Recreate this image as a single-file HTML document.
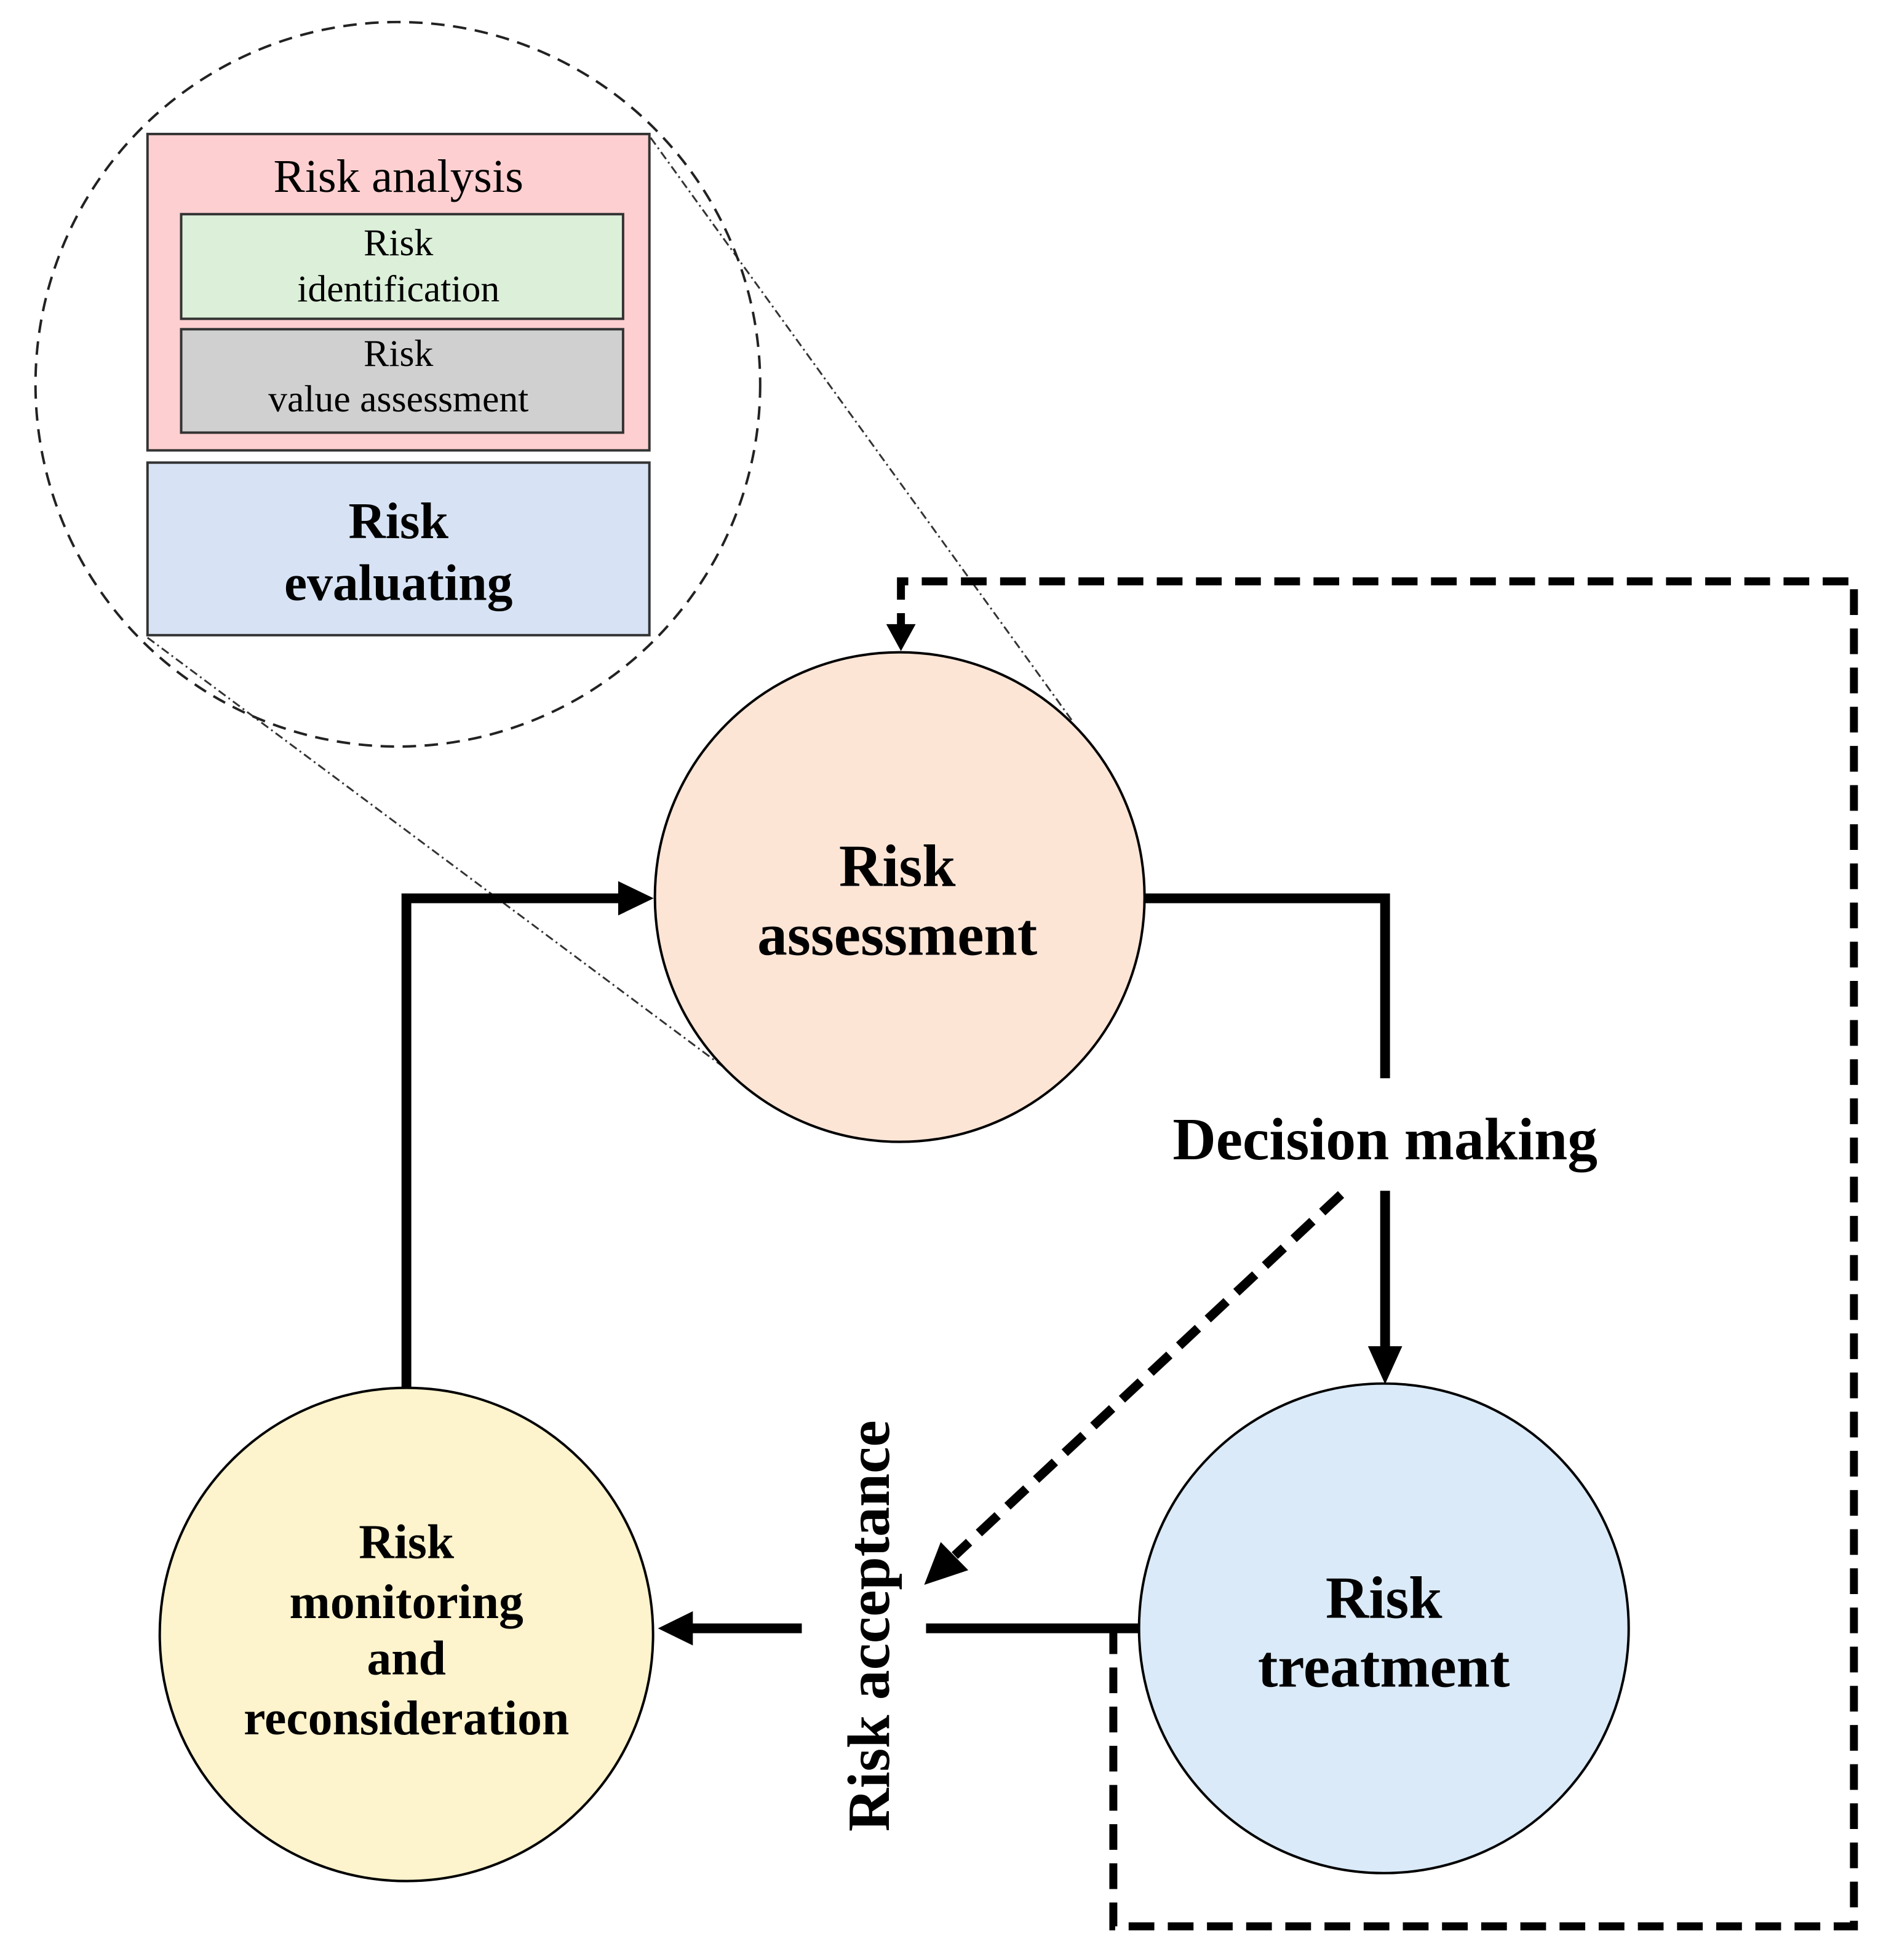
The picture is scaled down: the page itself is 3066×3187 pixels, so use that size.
<!DOCTYPE html>
<html><head><meta charset="utf-8"><style>body{margin:0;background:#fff}svg{display:block}</style></head>
<body>
<svg width="3066" height="3187" viewBox="0 0 3066 3187" xmlns="http://www.w3.org/2000/svg" font-family="Liberation Serif, serif">
<g transform="scale(0.995)">
<line x1="1063" y1="225" x2="1754" y2="1181" stroke="#333" stroke-width="3" stroke-dasharray="14,6,3,6"/>
<line x1="241" y1="1042" x2="1196" y2="1754" stroke="#333" stroke-width="3" stroke-dasharray="14,6,3,6"/>
<circle cx="650" cy="628" r="592" fill="none" stroke="#222" stroke-width="4" stroke-dasharray="22,14"/>
<rect x="241" y="219" width="820" height="517" fill="#fecfd0" stroke="#333" stroke-width="4"/>
<rect x="296" y="350" width="722" height="171" fill="#dcf0d9" stroke="#333" stroke-width="4"/>
<rect x="296" y="538" width="722" height="169" fill="#d0d0d0" stroke="#333" stroke-width="4"/>
<rect x="241" y="756" width="820" height="282" fill="#d7e3f4" stroke="#333" stroke-width="4"/>
<g text-anchor="middle" dominant-baseline="middle" fill="#000">
<text x="651" y="296" font-size="77">Risk analysis</text>
<text x="651" y="403" font-size="62">Risk</text>
<text x="651" y="478" font-size="62">identification</text>
<text x="651" y="584" font-size="62">Risk</text>
<text x="651" y="658" font-size="62">value assessment</text>
<text x="651" y="860" font-size="84" font-weight="bold">Risk</text>
<text x="651" y="961" font-size="84" font-weight="bold">evaluating</text>
</g>
<path d="M1819,2661 L1819,3148 L3029,3148 L3029,950 L1472,950 L1472,1040" fill="none" stroke="#000" stroke-width="13" stroke-dasharray="42,22"/>
<path d="M1448,1020 L1496,1020 L1472,1064 z" fill="#000"/>
<path d="M664,2268 L664,1468 L1030,1468" fill="none" stroke="#000" stroke-width="16"/>
<path d="M1010,1440 L1068,1468 L1010,1496 z" fill="#000"/>
<path d="M1870,1468 L2263,1468 L2263,1762" fill="none" stroke="#000" stroke-width="16"/>
<line x1="2263" y1="1946" x2="2263" y2="2215" stroke="#000" stroke-width="16"/>
<path d="M2235,2200 L2291,2200 L2263,2262 z" fill="#000"/>
<line x1="1513" y1="2661" x2="1862" y2="2661" stroke="#000" stroke-width="16"/>
<line x1="1310" y1="2661" x2="1120" y2="2661" stroke="#000" stroke-width="16"/>
<path d="M1132,2633 L1132,2689 L1075,2661 z" fill="#000"/>
<line x1="2191" y1="1952" x2="1560" y2="2542" stroke="#000" stroke-width="15" stroke-dasharray="42,22"/>
<path d="M1537,2520 L1582,2566 L1510,2590 z" fill="#000"/>
<circle cx="1470" cy="1466" r="400" fill="#fde5d6" stroke="#000" stroke-width="4"/>
<circle cx="2261" cy="2661" r="400" fill="#daeaf8" stroke="#000" stroke-width="4"/>
<circle cx="664" cy="2671" r="403" fill="#fdf3cc" stroke="#000" stroke-width="4"/>
<g text-anchor="middle" dominant-baseline="middle" fill="#000" font-weight="bold">
<text x="1466" y="1425" font-size="98">Risk</text>
<text x="1466" y="1538" font-size="98">assessment</text>
<text x="2261" y="2621" font-size="98">Risk</text>
<text x="2261" y="2734" font-size="98">treatment</text>
<text x="664" y="2528" font-size="80">Risk</text>
<text x="664" y="2626" font-size="80">monitoring</text>
<text x="664" y="2718" font-size="80">and</text>
<text x="664" y="2816" font-size="80">reconsideration</text>
<text x="2263" y="1872" font-size="98">Decision making</text>
<text x="0" y="0" font-size="98" transform="translate(1430,2657) rotate(-90)">Risk acceptance</text>
</g>
</g>
</svg>
</body></html>
